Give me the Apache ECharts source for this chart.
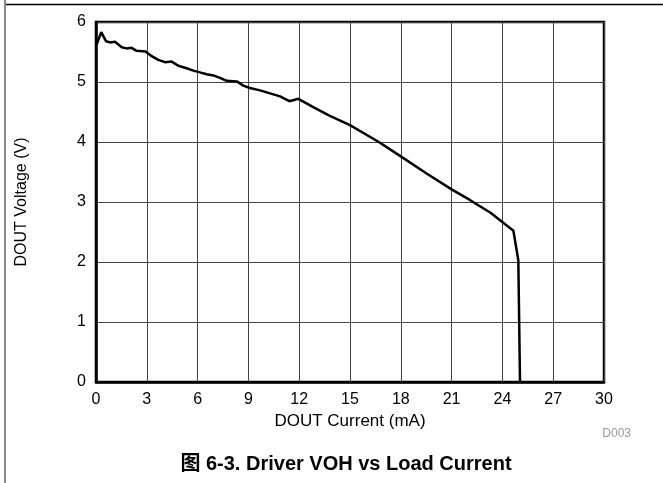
<!DOCTYPE html>
<html>
<head>
<meta charset="utf-8">
<script src="https://cdn.jsdelivr.net/npm/echarts@6/dist/echarts.min.js"></script>
<style>
html,body{margin:0;padding:0;background:#fff;}
#c{width:663px;height:483px;}
</style>
</head>
<body>
<div id="c"></div>
<script>
var current = [0.03, 0.31, 0.59, 0.83, 1.12, 1.52, 1.81, 2.1, 2.4, 2.93, 3.29, 3.68, 4.07, 4.47, 4.86, 5.35, 5.75, 6.14, 6.54, 6.93, 7.32, 7.72, 8.31, 8.7, 9.09, 9.69, 10.28, 10.87, 11.42, 11.95, 12.83, 13.78, 15.0, 16.7, 18.0, 19.5, 21.0, 22.1, 23.3, 24.65, 24.94, 25.04];
var voltage = [5.62, 5.83, 5.68, 5.66, 5.67, 5.58, 5.56, 5.57, 5.52, 5.51, 5.43, 5.37, 5.33, 5.34, 5.27, 5.23, 5.19, 5.16, 5.13, 5.11, 5.07, 5.02, 5.01, 4.94, 4.90, 4.86, 4.81, 4.76, 4.68, 4.72, 4.58, 4.44, 4.28, 4.0, 3.76, 3.48, 3.21, 3.03, 2.82, 2.52, 2.03, 0];
var xTicks = [0, 3, 6, 9, 12, 15, 18, 21, 24, 27, 30];
var yTicks = [0, 1, 2, 3, 4, 5, 6];
var xName = 'DOUT Current (mA)';
var yName = 'DOUT Voltage (V)';
var caption = '图 6-3. Driver VOH vs Load Current';
var tag = 'D003';

var pts = current.map(function (c, i) { return [c, voltage[i]]; });
var font = 'Liberation Sans, Arial, Noto Sans CJK SC, sans-serif';
var chart = echarts.init(document.getElementById('c'), null, {renderer: 'canvas'});
chart.setOption({
  animation: false,
  backgroundColor: '#fff',
  grid: {left: 96, right: 59, top: 22, bottom: 101, show: true, borderColor: '#000', borderWidth: 2.5, backgroundColor: 'transparent'},
  xAxis: {
    type: 'value', min: xTicks[0], max: xTicks[xTicks.length - 1], interval: 3,
    name: xName, nameLocation: 'middle', nameGap: 29,
    nameTextStyle: {fontFamily: font, fontSize: 17, color: '#000'},
    axisLine: {show: true, lineStyle: {color: '#000', width: 2.5}},
    axisTick: {show: false},
    axisLabel: {fontFamily: font, fontSize: 16, color: '#000', margin: 10},
    splitLine: {show: true, lineStyle: {color: '#444', width: 1}}
  },
  yAxis: {
    type: 'value', min: yTicks[0], max: yTicks[yTicks.length - 1], interval: 1,
    name: yName, nameLocation: 'middle', nameGap: 66,
    nameTextStyle: {fontFamily: font, fontSize: 16, color: '#000'},
    axisLine: {show: true, lineStyle: {color: '#000', width: 2.5}},
    axisTick: {show: false},
    axisLabel: {fontFamily: font, fontSize: 16, color: '#000', margin: 10},
    splitLine: {show: true, lineStyle: {color: '#444', width: 1}}
  },
  series: [{
    type: 'line', data: pts, showSymbol: false, symbol: 'none',
    lineStyle: {color: '#000', width: 2.5}, z: 5
  }],
  graphic: [
    {type: 'line', shape: {x1: 5, y1: 0, x2: 5, y2: 483}, style: {stroke: '#888', lineWidth: 2}},
    {type: 'line', shape: {x1: 6, y1: 4.5, x2: 663, y2: 4.5}, style: {stroke: '#000', lineWidth: 1.5}},
    {type: 'text', x: 631, y: 434, style: {text: tag, fontFamily: font, fontSize: 12, fill: '#999', textAlign: 'right', textVerticalAlign: 'middle'}},
    {type: 'text', x: 346, y: 464, style: {text: caption, fontFamily: font, fontSize: 20, fontWeight: 'bold', fill: '#000', textAlign: 'center', textVerticalAlign: 'middle'}}
  ]
});
</script>
</body>
</html>
